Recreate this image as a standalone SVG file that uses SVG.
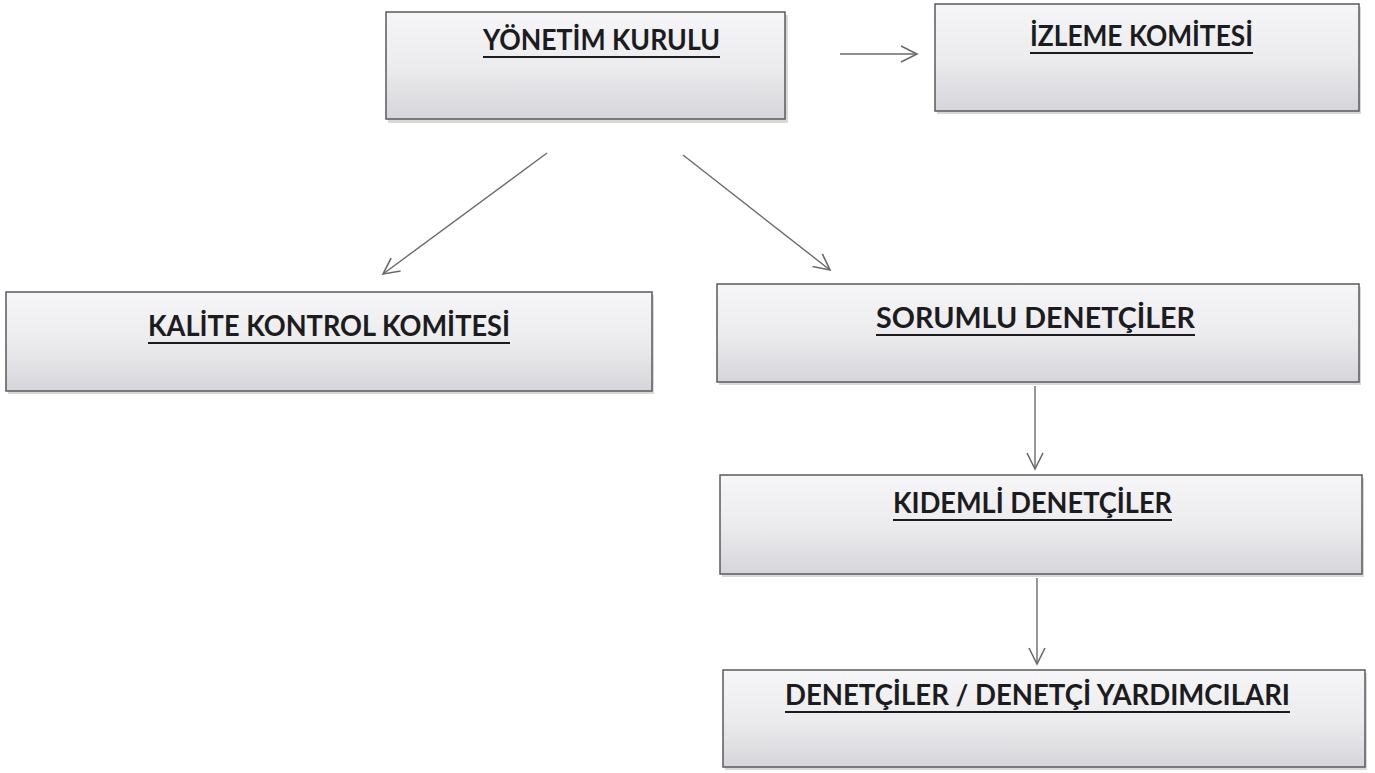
<svg xmlns="http://www.w3.org/2000/svg" width="1375" height="773" viewBox="0 0 1375 773">
  <style>
    .box { fill: url(#boxfill); stroke: #5a5a5e; stroke-width: 1.5; }
    .shadow { fill: #b8b8bc; opacity: 0.55; }
    .label { font-family: "Lato", "Liberation Sans", sans-serif; font-weight: bold; font-size: 28px; fill: #1c1c1e; text-anchor: middle; }
    .ul { stroke: #1c1c1e; stroke-width: 2.2; }
    .conn { stroke: #6a6a6e; stroke-width: 1.4; fill: none; marker-end: url(#chev); }
  </style>
  <defs>
    <linearGradient id="boxfill" x1="0" y1="0" x2="0" y2="1">
      <stop offset="0" stop-color="#f6f6f8"/>
      <stop offset="0.5" stop-color="#ececef"/>
      <stop offset="1" stop-color="#d6d6da"/>
    </linearGradient>
    <marker id="chev" viewBox="0 0 20 20" refX="18" refY="10" markerWidth="20" markerHeight="20" markerUnits="userSpaceOnUse" orient="auto">
      <path d="M2,2 L18,10 L2,18" fill="none" stroke="#6a6a6e" stroke-width="1.6"/>
    </marker>
  </defs>
  <rect width="1375" height="773" fill="#ffffff"/>

  <g id="connectors">
    <line class="conn" x1="840" y1="54" x2="917" y2="54"/>
    <line class="conn" x1="547" y1="153" x2="383" y2="274"/>
    <line class="conn" x1="683" y1="155" x2="830" y2="270"/>
    <line class="conn" x1="1035" y1="386" x2="1035" y2="469"/>
    <line class="conn" x1="1037" y1="578" x2="1037" y2="664"/>
  </g>

  <g id="yonetim-kurulu">
    <rect class="shadow" x="388" y="15" width="400" height="108"/>
    <rect class="box" x="386" y="12" width="399" height="107"/>
    <text class="label" x="601.5" y="50" textLength="237" lengthAdjust="spacingAndGlyphs">YÖNETİM KURULU</text>
    <line class="ul" x1="483" y1="57" x2="720" y2="57"/>
  </g>

  <g id="izleme-komitesi">
    <rect class="shadow" x="937" y="7" width="424" height="107"/>
    <rect class="box" x="935" y="4" width="424" height="107"/>
    <text class="label" x="1141.5" y="46" textLength="223" lengthAdjust="spacingAndGlyphs">İZLEME KOMİTESİ</text>
    <line class="ul" x1="1030" y1="53" x2="1253" y2="53"/>
  </g>

  <g id="kalite-kontrol-komitesi">
    <rect class="shadow" x="8" y="295" width="646" height="99"/>
    <rect class="box" x="6" y="292" width="646" height="99"/>
    <text class="label" x="329" y="336" textLength="362" lengthAdjust="spacingAndGlyphs">KALİTE KONTROL KOMİTESİ</text>
    <line class="ul" x1="148" y1="343" x2="510" y2="343"/>
  </g>

  <g id="sorumlu-denetciler">
    <rect class="shadow" x="719" y="287" width="642" height="98"/>
    <rect class="box" x="717" y="284" width="642" height="98"/>
    <text class="label" x="1035.5" y="328" textLength="319" lengthAdjust="spacingAndGlyphs">SORUMLU DENETÇİLER</text>
    <line class="ul" x1="876" y1="335" x2="1195" y2="335"/>
  </g>

  <g id="kidemli-denetciler">
    <rect class="shadow" x="722" y="478" width="642" height="99"/>
    <rect class="box" x="720" y="475" width="642" height="99"/>
    <text class="label" x="1032.5" y="513" textLength="279" lengthAdjust="spacingAndGlyphs">KIDEMLİ DENETÇİLER</text>
    <line class="ul" x1="893" y1="520" x2="1172" y2="520"/>
  </g>

  <g id="denetciler-yardimcilari">
    <rect class="shadow" x="725" y="673" width="642" height="97"/>
    <rect class="box" x="723" y="670" width="642" height="97"/>
    <text class="label" x="1037.5" y="705" textLength="505" lengthAdjust="spacingAndGlyphs">DENETÇİLER / DENETÇİ YARDIMCILARI</text>
    <line class="ul" x1="785" y1="712" x2="1290" y2="712"/>
  </g>
</svg>
